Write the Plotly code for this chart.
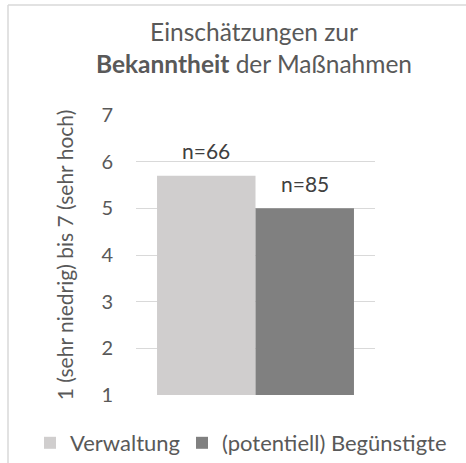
import plotly.graph_objects as go

categories = [""]
series_names = ["Verwaltung", "(potentiell) Begünstigte"]
series_values = [[5.7], [5.0]]
series_labels = ["n=66", "n=85"]
series_colors = ["#D0CECE", "#808080"]
tick_values = [1, 2, 3, 4, 5, 6, 7]

FONT = "Lato"
W, H = 466, 463
L, R, T, B = 136, 91, 115, 68
PW, PH = W - L - R, H - T - B
BARGAP = 0.176
legend_ids = ["legend", "legend2"]
legend_left_px = [30, 182]

fig = go.Figure()
for name, vals, col, lg in zip(series_names, series_values, series_colors, legend_ids):
    fig.add_trace(go.Bar(
        x=categories, y=vals, name=name, legend=lg,
        marker=dict(color=col, line=dict(width=0)),
    ))

# value labels above bars, centred on each grouped bar
n = len(series_names)
bw = (1 - BARGAP) / n
for i, (vals, lab) in enumerate(zip(series_values, series_labels)):
    off = -0.5 * (1 - BARGAP) + bw * (i + 0.5)
    for j, v in enumerate(vals):
        fig.add_annotation(x=j + off, y=v, text=lab, showarrow=False, xref="x", yref="y",
                           yanchor="middle", yshift=25,
                           font=dict(family=FONT, size=21, color="#404040"))

legend_common = dict(orientation="v", xref="paper", xanchor="left",
                     yref="paper", yanchor="middle", y=(H - B - 443) / PH,
                     font=dict(family=FONT, size=22, color="#595959"),
                     itemwidth=30, bgcolor="rgba(0,0,0,0)", borderwidth=0)

fig.update_layout(
    width=W, height=H,
    margin=dict(l=L, r=R, t=T, b=B, autoexpand=False),
    paper_bgcolor="white", plot_bgcolor="white",
    barmode="group", bargap=BARGAP, bargroupgap=0,
    font=dict(family=FONT, color="#595959"),
    showlegend=True,
    title=dict(text="Einschätzungen zur<br><b>Bekanntheit</b> der Maßnahmen",
               x=(254 - L) / PW, xref="paper", xanchor="center",
               y=1 - 41 / H, yref="container", yanchor="middle",
               font=dict(family=FONT, size=24.5, color="#595959")),
    xaxis=dict(showticklabels=False, showline=False, showgrid=False, zeroline=False, ticks="",
               range=[-0.5, 0.5], automargin=False),
    yaxis=dict(range=[1, 7], tickvals=tick_values, showgrid=True, gridcolor="#D9D9D9",
               gridwidth=1, zeroline=False, showline=False, ticks="",
               ticklabelstandoff=22, automargin=False,
               tickfont=dict(family=FONT, size=20, color="#595959"),
               title=dict(text="1 (sehr niedrig) bis 7 (sehr hoch)", standoff=22,
                          font=dict(family=FONT, size=21, color="#595959"))),
    legend=dict(x=(legend_left_px[0] - L) / PW, **legend_common),
    legend2=dict(x=(legend_left_px[1] - L) / PW, **legend_common),
)
# light chart-area frame (left and top edges visible in the reference)
fx = (8 - L) / PW
fy = (H - B - 5) / PH
fig.add_shape(type="line", xref="paper", yref="paper", x0=fx, x1=fx, y0=-0.5, y1=fy,
              line=dict(color="#D9D9D9", width=1.5))
fig.add_shape(type="line", xref="paper", yref="paper", x0=fx, x1=2, y0=fy, y1=fy,
              line=dict(color="#D9D9D9", width=1.5))
fig.write_html("out.html", config={"displayModeBar": False},
               post_script="document.body.style.margin='0';")
